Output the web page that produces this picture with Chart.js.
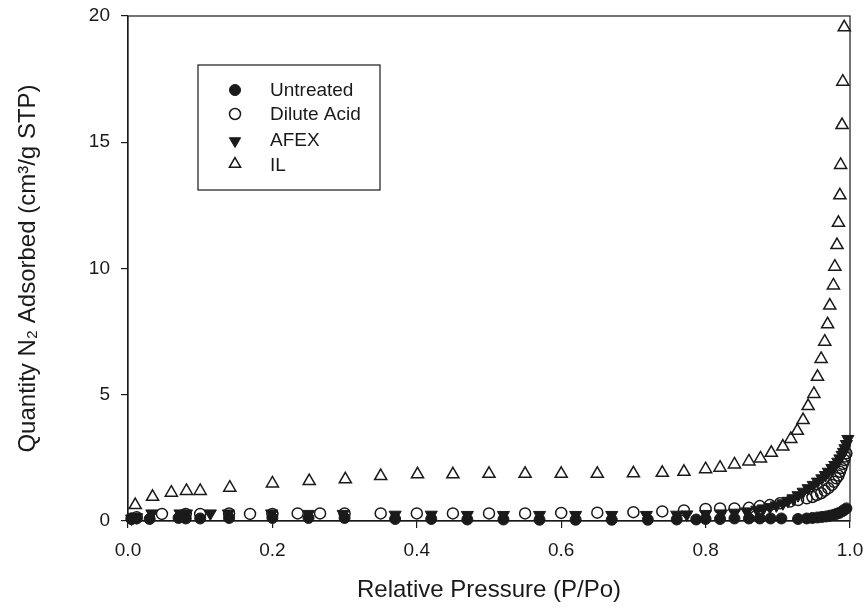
<!DOCTYPE html>
<html>
<head>
<meta charset="utf-8">
<script src="https://cdn.jsdelivr.net/npm/chart.js"></script>
<style>
html, body { margin: 0; padding: 0; background: #fff; }
#wrap { width: 864px; height: 608px; }
</style>
</head>
<body>
<div id="wrap"><canvas id="isothermChart" width="864" height="608"></canvas></div>
<script>
// ========= Data =========
const untreatedX = [0.005, 0.012, 0.03, 0.07, 0.08, 0.10, 0.14, 0.20, 0.25, 0.30,
    0.37, 0.42, 0.47, 0.52, 0.57, 0.62, 0.67, 0.72, 0.76, 0.787,
    0.80, 0.82, 0.84, 0.86, 0.875, 0.89, 0.905, 0.928, 0.94, 0.948,
    0.955, 0.961, 0.967, 0.972, 0.977, 0.981, 0.985, 0.989, 0.992, 0.995];
const untreatedY = [0.08, 0.1, 0.08, 0.12, 0.1, 0.1, 0.12, 0.12, 0.12, 0.12,
    0.08, 0.08, 0.06, 0.06, 0.05, 0.05, 0.05, 0.05, 0.06, 0.06,
    0.08, 0.08, 0.1, 0.1, 0.1, 0.1, 0.1, 0.08, 0.1, 0.12,
    0.14, 0.16, 0.18, 0.21, 0.24, 0.28, 0.32, 0.38, 0.44, 0.5];

const diluteX = [0.005, 0.012, 0.047, 0.08, 0.10, 0.14, 0.169, 0.20, 0.235, 0.266,
    0.30, 0.35, 0.40, 0.45, 0.50, 0.55, 0.60, 0.65, 0.70, 0.74,
    0.77, 0.80, 0.82, 0.84, 0.86, 0.875, 0.889, 0.903, 0.917, 0.928,
    0.94, 0.948, 0.954, 0.96, 0.965, 0.97, 0.975, 0.978, 0.981, 0.984,
    0.986, 0.988, 0.99, 0.992, 0.993, 0.995];
const diluteY = [0.1, 0.15, 0.28, 0.28, 0.28, 0.3, 0.28, 0.28, 0.3, 0.3,
    0.3, 0.3, 0.3, 0.3, 0.3, 0.3, 0.32, 0.33, 0.35, 0.38,
    0.42, 0.48, 0.5, 0.5, 0.52, 0.59, 0.63, 0.7, 0.77, 0.83,
    0.9, 0.95, 1.03, 1.1, 1.2, 1.3, 1.43, 1.55, 1.69, 1.8,
    1.95, 2.1, 2.26, 2.42, 2.55, 2.68];

const afexX = [0.005, 0.012, 0.033, 0.072, 0.081, 0.114, 0.139, 0.199, 0.25, 0.298,
    0.37, 0.42, 0.47, 0.52, 0.57, 0.62, 0.67, 0.718, 0.76, 0.774,
    0.80, 0.822, 0.84, 0.857, 0.871, 0.88, 0.889, 0.898, 0.907, 0.914,
    0.921, 0.928, 0.935, 0.942, 0.949, 0.955, 0.961, 0.966, 0.97, 0.975,
    0.979, 0.983, 0.986, 0.989, 0.991, 0.993, 0.995, 0.997];
const afexY = [0.1, 0.15, 0.3, 0.3, 0.3, 0.3, 0.3, 0.3, 0.28, 0.28,
    0.25, 0.25, 0.24, 0.24, 0.24, 0.24, 0.24, 0.24, 0.25, 0.26,
    0.28, 0.3, 0.33, 0.38, 0.45, 0.5, 0.55, 0.62, 0.7, 0.8,
    0.9, 1.02, 1.16, 1.3, 1.43, 1.56, 1.69, 1.82, 1.95, 2.1,
    2.22, 2.35, 2.48, 2.62, 2.74, 2.88, 3.05, 3.25];

const ilX = [0.01, 0.034, 0.06, 0.081, 0.10, 0.141, 0.20, 0.251, 0.301, 0.35,
    0.401, 0.45, 0.50, 0.55, 0.60, 0.65, 0.70, 0.74, 0.77, 0.80,
    0.82, 0.84, 0.86, 0.876, 0.891, 0.907, 0.918, 0.927, 0.935, 0.942,
    0.95, 0.955, 0.96, 0.965, 0.969, 0.972, 0.977, 0.979, 0.982, 0.984,
    0.986, 0.987, 0.989, 0.99, 0.992];
const ilY = [0.63, 0.96, 1.12, 1.19, 1.19, 1.32, 1.49, 1.58, 1.65, 1.78,
    1.85, 1.85, 1.87, 1.87, 1.87, 1.87, 1.89, 1.91, 1.95, 2.05,
    2.11, 2.24, 2.36, 2.48, 2.7, 2.95, 3.25, 3.57, 4.0, 4.55,
    5.03, 5.71, 6.42, 7.1, 7.79, 8.53, 9.33, 10.07, 10.93, 11.81,
    12.9, 14.1, 15.68, 17.4, 19.55];

const seriesNames = ["Untreated", "Dilute Acid", "AFEX", "IL"];
const xTicks = [0, 0.2, 0.4, 0.6, 0.8, 1.0];
const yTicks = [0, 5, 10, 15, 20];

const INK = "#1a1a1a";

// ========= Helper =========
function toPoints(xs, ys) {
    return xs.map((x, i) => ({ x: x, y: ys[i] }));
}

// marker styles shared by datasets and the legend
const markers = [
    { pointStyle: "circle", radius: 5.5, rotation: 0, fill: INK, borderWidth: 1 },
    { pointStyle: "circle", radius: 5.5, rotation: 0, fill: "rgba(255,255,255,0)", borderWidth: 1.5 },
    { pointStyle: "triangle", radius: 7, rotation: 180, fill: INK, borderWidth: 1 },
    { pointStyle: "triangle", radius: 7, rotation: 0, fill: "rgba(255,255,255,0)", borderWidth: 1.5 },
];

// ========= Plugins =========
const framePlugin = {
    id: "frame",
    beforeDatasetsDraw(chart) {
        const { ctx, chartArea: a } = chart;
        ctx.save();
        ctx.strokeStyle = INK;
        ctx.lineWidth = 1.2;
        ctx.strokeRect(a.left, a.top, a.right - a.left, a.bottom - a.top);
        ctx.restore();
    },
};

const boxLegendPlugin = {
    id: "boxLegend",
    afterDraw(chart) {
        const { ctx, chartArea: a } = chart;
        const bx = a.left + 70, by = a.top + 49, bw = 182, bh = 125;
        ctx.save();
        ctx.fillStyle = "#fff";
        ctx.fillRect(bx, by, bw, bh);
        ctx.strokeStyle = INK;
        ctx.lineWidth = 1.2;
        ctx.strokeRect(bx, by, bw, bh);
        ctx.font = "19px 'Liberation Sans', Arial, sans-serif";
        ctx.textBaseline = "middle";
        const rows = [25, 49, 75, 100];
        seriesNames.forEach((name, i) => {
            const m = markers[i];
            const cy = by + rows[i];
            ctx.fillStyle = m.fill;
            ctx.strokeStyle = INK;
            ctx.lineWidth = m.borderWidth;
            Chart.helpers.drawPoint(ctx, {
                pointStyle: m.pointStyle,
                rotation: m.rotation,
                radius: m.pointStyle === "circle" ? 5.5 : 6.5,
                borderWidth: m.borderWidth,
            }, bx + 37, cy + (m.pointStyle === "triangle" ? (m.rotation ? 1 : -1) : 0));
            ctx.fillStyle = INK;
            ctx.fillText(name, bx + 72, cy + 1);
        });
        ctx.restore();
    },
};

// ========= Global Defaults =========
Chart.defaults.font.family = "'Liberation Sans', Arial, sans-serif";
Chart.defaults.color = INK;

// ========= N2 Adsorption Isotherm (Scatter) =========
const isoCtx = document.getElementById("isothermChart");
const allX = [untreatedX, diluteX, afexX, ilX];
const allY = [untreatedY, diluteY, afexY, ilY];

new Chart(isoCtx, {
    type: "scatter",
    data: {
        datasets: seriesNames.map((name, i) => ({
            label: name,
            data: toPoints(allX[i], allY[i]),
            pointStyle: markers[i].pointStyle,
            pointRadius: markers[i].radius,
            pointHoverRadius: markers[i].radius,
            pointRotation: markers[i].rotation,
            backgroundColor: markers[i].fill,
            borderColor: INK,
            borderWidth: markers[i].borderWidth,
            clip: false,
            order: 3 - i,
        })),
    },
    options: {
        responsive: false,
        animation: false,
        layout: {
            padding: { left: 0, right: 14, top: 16, bottom: 0 },
        },
        plugins: {
            legend: { display: false },
            tooltip: { enabled: false },
        },
        scales: {
            x: {
                type: "linear",
                min: 0,
                max: 1,
                afterFit: (s) => {
                    s.height = 87;
                    s.paddingLeft = 0;
                    s.paddingRight = 0;
                },
                afterBuildTicks: (s) => { s.ticks = xTicks.map((v) => ({ value: v })); },
                ticks: {
                    callback: (v) => Number(v).toFixed(1),
                    font: { size: 19 },
                    color: INK,
                    padding: 11,
                    maxRotation: 0,
                },
                grid: { drawOnChartArea: false, tickLength: 7, color: INK, lineWidth: 1.2 },
                border: { color: INK, width: 1.2 },
                title: {
                    display: true,
                    text: "Relative Pressure (P/Po)",
                    font: { size: 24 },
                    color: INK,
                    padding: { top: 0, bottom: 3 },
                },
            },
            y: {
                type: "linear",
                min: 0,
                max: 20,
                afterFit: (s) => {
                    s.width = 128;
                    s.paddingTop = 0;
                    s.paddingBottom = 0;
                },
                afterBuildTicks: (s) => { s.ticks = yTicks.map((v) => ({ value: v })); },
                ticks: {
                    font: { size: 19 },
                    color: INK,
                    padding: 11,
                },
                grid: { drawOnChartArea: false, tickLength: 7, color: INK, lineWidth: 1.2 },
                border: { color: INK, width: 1.2 },
                title: {
                    display: true,
                    text: "Quantity N₂ Adsorbed (cm³/g STP)",
                    font: { size: 24 },
                    color: INK,
                    padding: { top: 14, bottom: 0 },
                },
            },
        },
    },
    plugins: [framePlugin, boxLegendPlugin],
});
</script>
</body>
</html>
